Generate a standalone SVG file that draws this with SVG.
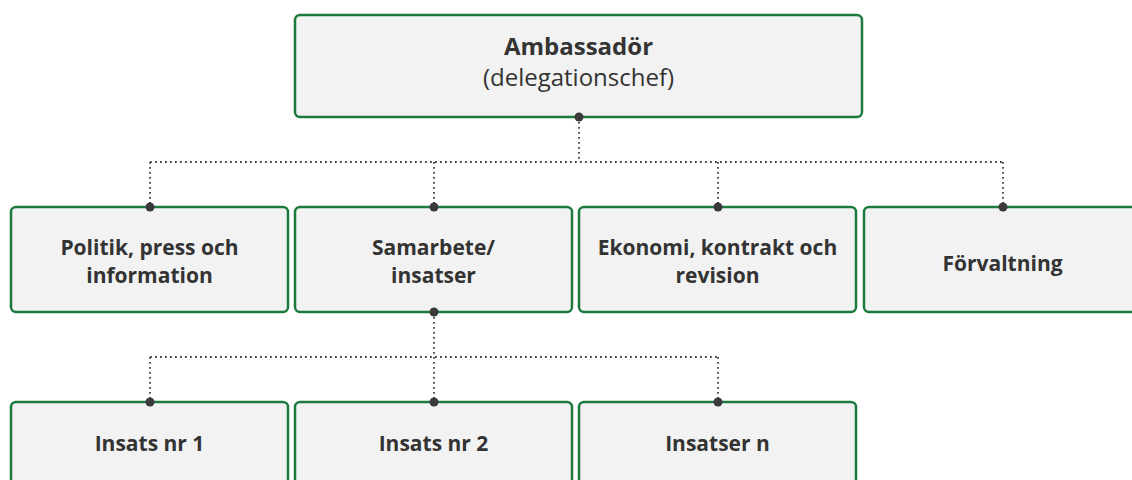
<svg xmlns="http://www.w3.org/2000/svg" width="1132" height="480" viewBox="0 0 1132 480">
  <style>
    .box { fill: #f2f2f2; stroke: #1d7a3e; stroke-width: 2.5; }
    .lbl { font-family: "Open Sans", "Liberation Sans", sans-serif; font-weight: bold; font-size: 21px; fill: #333333; text-anchor: middle; }
    .sub { font-family: "Open Sans", "Liberation Sans", sans-serif; font-size: 24px; fill: #333333; text-anchor: middle; }
    .link { fill: none; stroke: #444444; stroke-width: 1.8; stroke-dasharray: 1.8 3.2; }
    .dot { fill: #3a3a3a; }
  </style>
  <rect width="1132" height="480" fill="#ffffff"/>

  <g id="ambassador">
    <rect class="box" x="295" y="15" width="567" height="102" rx="5"/>
    <text class="lbl" x="578.5" y="55" style="font-size:24px">Ambassadör</text>
    <text class="sub" x="578.5" y="86">(delegationschef)</text>
  </g>

  <g id="politik">
    <rect class="box" x="11" y="207" width="277" height="105" rx="5"/>
    <text class="lbl" x="149.5" y="255">Politik, press och</text>
    <text class="lbl" x="149.5" y="283">information</text>
  </g>

  <g id="samarbete">
    <rect class="box" x="295" y="207" width="277" height="105" rx="5"/>
    <text class="lbl" x="433.5" y="255">Samarbete/</text>
    <text class="lbl" x="433.5" y="283">insatser</text>
  </g>

  <g id="ekonomi">
    <rect class="box" x="579" y="207" width="277" height="105" rx="5"/>
    <text class="lbl" x="717.5" y="255">Ekonomi, kontrakt och</text>
    <text class="lbl" x="717.5" y="283">revision</text>
  </g>

  <g id="forvaltning">
    <rect class="box" x="864" y="207" width="277" height="105" rx="5"/>
    <text class="lbl" x="1002.5" y="271">Förvaltning</text>
  </g>

  <g id="insats1">
    <rect class="box" x="11" y="402" width="277" height="105" rx="5"/>
    <text class="lbl" x="149.5" y="451">Insats nr 1</text>
  </g>

  <g id="insats2">
    <rect class="box" x="295" y="402" width="277" height="105" rx="5"/>
    <text class="lbl" x="433.5" y="451">Insats nr 2</text>
  </g>

  <g id="insatsn">
    <rect class="box" x="579" y="402" width="277" height="105" rx="5"/>
    <text class="lbl" x="717.5" y="451">Insatser n</text>
  </g>

  <!-- connectors, drawn last so the end dots sit on top of the box borders -->
  <g id="connectors">
    <path class="link" d="M579 117 V162 M150 162 H1003 M150 162 V207 M434 162 V207 M718 162 V207 M1003 162 V207"/>
    <path class="link" d="M434 312 V402 M150 357 H718 M150 357 V402 M718 357 V402"/>
    <circle class="dot" cx="579" cy="117" r="4.5"/>
    <circle class="dot" cx="150" cy="207" r="4.5"/>
    <circle class="dot" cx="434" cy="207" r="4.5"/>
    <circle class="dot" cx="718" cy="207" r="4.5"/>
    <circle class="dot" cx="1003" cy="207" r="4.5"/>
    <circle class="dot" cx="434" cy="312" r="4.5"/>
    <circle class="dot" cx="150" cy="402" r="4.5"/>
    <circle class="dot" cx="434" cy="402" r="4.5"/>
    <circle class="dot" cx="718" cy="402" r="4.5"/>
  </g>
</svg>
